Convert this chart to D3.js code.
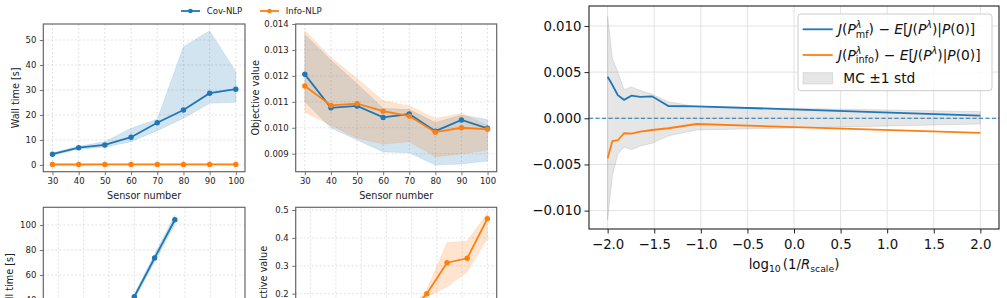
<!DOCTYPE html>
<html><head><meta charset="utf-8">
<script src="https://cdn.jsdelivr.net/npm/d3@7"></script>
<style>body{margin:0;background:#fff} svg{display:block} text{font-family:"DejaVu Sans",sans-serif}</style>
</head><body><svg id="c" width="1007" height="298"></svg>
<script>
// ---------- data: top panels (sensor number) ----------
const sensors = [30, 40, 50, 60, 70, 80, 90, 100];
const covTime   = [4.3, 6.9, 8.0, 11.1, 16.9, 22.0, 28.7, 30.3];
const covTimeLo = [3.8, 6.4, 7.1, 9.3, 13.7, 18.7, 24.7, 25.1];
const covTimeHi = [4.9, 7.5, 9.3, 14.7, 18.3, 47.3, 53.7, 37.3];
const infoTime   = [0.18, 0.19, 0.2, 0.2, 0.21, 0.22, 0.22, 0.23];
const infoTimeLo = [0.15, 0.16, 0.17, 0.17, 0.18, 0.19, 0.19, 0.2];
const infoTimeHi = [0.21, 0.22, 0.23, 0.23, 0.24, 0.25, 0.25, 0.26];
const covObj   = [0.01206, 0.01077, 0.01084, 0.0104, 0.01053, 0.00987, 0.0103, 0.00998];
const covObjLo = [0.0110, 0.0100, 0.00953, 0.00907, 0.00904, 0.00856, 0.0086, 0.00872];
const covObjHi = [0.0136, 0.0126, 0.0117, 0.01075, 0.0107, 0.0102, 0.01049, 0.01032];
const infoObj   = [0.01161, 0.01086, 0.01093, 0.01064, 0.01045, 0.00983, 0.0100, 0.00994];
const infoObjLo = [0.0106, 0.0101, 0.0096, 0.00937, 0.00946, 0.00888, 0.00899, 0.00914];
const infoObjHi = [0.01375, 0.0127, 0.0119, 0.01104, 0.01084, 0.01036, 0.01055, 0.0101];
// ---------- data: bottom panels (only their upper part is in view) ----------
const sensorsB = [30, 70, 110, 150, 190, 230];
const covTimeB   = [2.5, 8.5, 20.5, 42.6, 73.6, 104.2];
const covTimeBLo = [2.2, 7.8, 19.0, 40.5, 70.5, 100.5];
const covTimeBHi = [2.8, 9.2, 22.0, 44.7, 76.7, 108.0];
const sensorsB2 = [30, 70, 110, 150, 190, 230, 270, 310, 350];
const infoObjB   = [0.01, 0.02, 0.04, 0.07, 0.12, 0.2, 0.311, 0.327, 0.469];
const infoObjBLo = [0.008, 0.016, 0.033, 0.06, 0.105, 0.188, 0.225, 0.279, 0.398];
const infoObjBHi = [0.012, 0.024, 0.047, 0.08, 0.135, 0.213, 0.383, 0.389, 0.488];
const bottomXTicks = [0, 50, 100, 150, 200, 250, 300, 350];
const bottomLeftYTicks = [40, 60, 80, 100];
const bottomMidYTicks = [0.2, 0.3, 0.4, 0.5];
// ---------- data: right panel ----------
const logInvR = [-2.0, -1.949, -1.891, -1.824, -1.745, -1.648, -1.523, -1.347, -1.046, 2.0];
const mfDiff   = [0.0045, 0.0036, 0.0025, 0.0020, 0.00245, 0.00232, 0.00238, 0.00133, 0.0013, 0.00028];
const infoDiff = [-0.00433, -0.00246, -0.00238, -0.00162, -0.00167, -0.00145, -0.00127, -0.00108, -0.00062, -0.00159];
const mcUpper = [0.011, 0.0065, 0.0050, 0.0031, 0.0034, 0.0030, 0.0026, 0.0018, 0.00126, 0.00072];
const mcLower = [-0.011, -0.0062, -0.0039, -0.0031, -0.0034, -0.0030, -0.0027, -0.0019, -0.00127, -0.00062];
const rightXTicks = [-2.0, -1.5, -1.0, -0.5, 0.0, 0.5, 1.0, 1.5, 2.0];
const rightYTicks = [-0.010, -0.005, 0.0, 0.005, 0.010];

const C0 = "#1f77b4", C1 = "#ff7f0e";
const svg = d3.select("#c");

function leftPanel(cfg) {
  const g = svg.append("g");
  const x = d3.scaleLinear().domain(cfg.xd).range([cfg.L, cfg.R]);
  const y = d3.scaleLinear().domain(cfg.yd).range([cfg.B, cfg.T]);
  const clipId = "clip" + Math.round(cfg.L) + "_" + Math.round(cfg.T);
  svg.append("clipPath").attr("id", clipId).append("rect")
    .attr("x", cfg.L).attr("y", cfg.T).attr("width", cfg.R - cfg.L).attr("height", cfg.B - cfg.T);
  const grid = g.append("g").attr("stroke", "#d6d6d6").attr("stroke-width", 0.7).attr("stroke-dasharray", "2,2");
  cfg.xt.forEach(t => grid.append("line").attr("x1", x(t)).attr("x2", x(t)).attr("y1", cfg.T).attr("y2", cfg.B));
  cfg.yt.forEach(t => grid.append("line").attr("y1", y(t)).attr("y2", y(t)).attr("x1", cfg.L).attr("x2", cfg.R));
  const plot = g.append("g").attr("clip-path", `url(#${clipId})`);
  cfg.series.forEach(s => {
    const pts = s.xs.map((v, i) => ({x: v, y: s.ys[i], lo: s.lo[i], hi: s.hi[i]}));
    plot.append("path").datum(pts)
      .attr("d", d3.area().x(d => x(d.x)).y0(d => y(d.lo)).y1(d => y(d.hi)))
      .attr("fill", s.c).attr("fill-opacity", 0.2).attr("stroke", s.c).attr("stroke-opacity", 0.15).attr("stroke-width", 0.8);
  });
  cfg.series.forEach(s => {
    const pts = s.xs.map((v, i) => ({x: v, y: s.ys[i]}));
    plot.append("path").datum(pts).attr("d", d3.line().x(d => x(d.x)).y(d => y(d.y)))
      .attr("fill", "none").attr("stroke", s.c).attr("stroke-width", 1.8);
    plot.selectAll(null).data(pts).enter().append("circle")
      .attr("cx", d => x(d.x)).attr("cy", d => y(d.y)).attr("r", 2.7).attr("fill", s.c);
  });
  g.append("rect").attr("x", cfg.L).attr("y", cfg.T).attr("width", cfg.R - cfg.L).attr("height", cfg.B - cfg.T)
    .attr("fill", "none").attr("stroke", "#666").attr("stroke-width", 1.2);
  const axes = [];
  if (cfg.xLabel) {
    axes.push(g.append("g").attr("transform", `translate(0,${cfg.B})`)
      .call(d3.axisBottom(x).tickValues(cfg.xt).tickSize(3.5).tickPadding(3.2).tickFormat(d3.format("d"))));
  }
  axes.push(g.append("g").attr("transform", `translate(${cfg.L},0)`)
    .call(d3.axisLeft(y).tickValues(cfg.yt).tickSize(3.5).tickPadding(3.5).tickFormat(cfg.yf)));
  axes.forEach(a => {
    a.select(".domain").remove();
    a.selectAll("line").attr("stroke", "#666").attr("stroke-width", 0.9);
    a.selectAll("text").attr("font-size", 8.5).attr("fill", "#222").attr("font-family", "DejaVu Sans");
  });
  if (cfg.xLabel) g.append("text").attr("x", (cfg.L + cfg.R) / 2).attr("y", cfg.B + 26.8)
    .attr("text-anchor", "middle").attr("font-size", 9.7).attr("fill", "#222").text(cfg.xLabel);
  g.append("text").attr("transform", `translate(${cfg.ylx},${(cfg.T + cfg.B) / 2}) rotate(-90)`)
    .attr("text-anchor", "middle").attr("font-size", 9.7).attr("fill", "#222").text(cfg.yLabel);
}

// top-left
leftPanel({L: 43.3, R: 245, T: 24, B: 171.7, xd: [26.5, 103.5], yd: [-2.7, 56.4],
  xt: sensors, yt: [0, 10, 20, 30, 40, 50], yf: d3.format("d"),
  xLabel: "Sensor number", yLabel: "Wall time [s]", ylx: 18.7,
  series: [
    {xs: sensors, ys: covTime, lo: covTimeLo, hi: covTimeHi, c: C0},
    {xs: sensors, ys: infoTime, lo: infoTimeLo, hi: infoTimeHi, c: C1}]});
// top-middle
leftPanel({L: 295.7, R: 496.7, T: 24, B: 171.7, xd: [26.5, 103.5], yd: [0.008306, 0.014],
  xt: sensors, yt: [0.009, 0.010, 0.011, 0.012, 0.013, 0.014], yf: d3.format(".3f"),
  xLabel: "Sensor number", yLabel: "Objective value", ylx: 258.5,
  series: [
    {xs: sensors, ys: covObj, lo: covObjLo, hi: covObjHi, c: C0},
    {xs: sensors, ys: infoObj, lo: infoObjLo, hi: infoObjHi, c: C1}]});
// bottom-left (cut by the window edge)
leftPanel({L: 43.3, R: 245, T: 207.3, B: 360, xd: [-29.6, 368.4], yd: [-8, 114.2],
  xt: bottomXTicks, yt: bottomLeftYTicks, yf: d3.format("d"),
  yLabel: "Wall time [s]", ylx: 12.7,
  series: [{xs: sensorsB, ys: covTimeB, lo: covTimeBLo, hi: covTimeBHi, c: C0}]});
// bottom-middle (cut by the window edge)
leftPanel({L: 295.7, R: 496.7, T: 207.3, B: 360, xd: [-29.6, 368.4], yd: [-0.0376, 0.5097],
  xt: bottomXTicks, yt: bottomMidYTicks, yf: d3.format(".1f"),
  yLabel: "Objective value", ylx: 267,
  series: [{xs: sensorsB2, ys: infoObjB, lo: infoObjBLo, hi: infoObjBHi, c: C1}]});

// shared legend (top)
const lg = svg.append("g");
[[181, C0, "Cov-NLP"], [260, C1, "Info-NLP"]].forEach(([x0, c, t]) => {
  lg.append("line").attr("x1", x0).attr("x2", x0 + 19).attr("y1", 11).attr("y2", 11).attr("stroke", c).attr("stroke-width", 1.8);
  lg.append("circle").attr("cx", x0 + 9.5).attr("cy", 11).attr("r", 2.3).attr("fill", c);
  lg.append("text").attr("x", x0 + 25.7).attr("y", 14).attr("font-size", 8.6).attr("fill", "#222").text(t);
});

// ---------- right panel ----------
function mathText(sel, runs, fs) {
  let cur = 0, prev = null;
  runs.forEach(r => {
    const shift = r.sup ? -0.4 * fs : r.sub ? 0.26 * fs : 0;
    const ts = sel.append("tspan").text(r.t);
    if (shift - cur !== 0) ts.attr("dy", shift - cur);
    cur = shift;
    if (r.sup || r.sub) ts.attr("font-size", fs * 0.7);
    if (r.it) ts.attr("font-style", "italic");
    let dx = r.dx || 0;
    if (r.back && prev) dx -= prev.node().getComputedTextLength();
    if (dx) ts.attr("dx", dx);
    prev = ts;
  });
}
(function rightPanel() {
  const L = 589, R = 999, T = 6, B = 229;
  const g = svg.append("g");
  const x = d3.scaleLinear().domain([-2.2, 2.2]).range([L, R]);
  const y = d3.scaleLinear().domain([-0.01199, 0.01216]).range([B, T]);
  const grid = g.append("g").attr("stroke", "#e3e3e3").attr("stroke-width", 1);
  rightXTicks.forEach(t => grid.append("line").attr("x1", x(t)).attr("x2", x(t)).attr("y1", T).attr("y2", B));
  rightYTicks.forEach(t => grid.append("line").attr("y1", y(t)).attr("y2", y(t)).attr("x1", L).attr("x2", R));
  const pts = logInvR.map((v, i) => ({x: v, mf: mfDiff[i], info: infoDiff[i], lo: mcLower[i], hi: mcUpper[i]}));
  g.append("path").datum(pts).attr("d", d3.area().x(d => x(d.x)).y0(d => y(d.lo)).y1(d => y(d.hi)))
    .attr("fill", "#808080").attr("fill-opacity", 0.2).attr("stroke", "#808080").attr("stroke-opacity", 0.2).attr("stroke-width", 1);
  g.append("line").attr("x1", L).attr("x2", R).attr("y1", y(0)).attr("y2", y(0))
    .attr("stroke", C0).attr("stroke-width", 1.1).attr("stroke-dasharray", "4,2.5");
  g.append("path").datum(pts).attr("d", d3.line().x(d => x(d.x)).y(d => y(d.mf)))
    .attr("fill", "none").attr("stroke", C0).attr("stroke-width", 1.8);
  g.append("path").datum(pts).attr("d", d3.line().x(d => x(d.x)).y(d => y(d.info)))
    .attr("fill", "none").attr("stroke", C1).attr("stroke-width", 1.8);
  g.append("rect").attr("x", L).attr("y", T).attr("width", R - L).attr("height", B - T)
    .attr("fill", "none").attr("stroke", "#222").attr("stroke-width", 1.1);
  const ax = g.append("g").attr("transform", `translate(0,${B})`)
    .call(d3.axisBottom(x).tickValues(rightXTicks).tickSize(4.5).tickPadding(6.5).tickFormat(d3.format(".1f")));
  const ay = g.append("g").attr("transform", `translate(${L},0)`)
    .call(d3.axisLeft(y).tickValues(rightYTicks).tickSize(4.5).tickPadding(3).tickFormat(d3.format(".3f")));
  [ax, ay].forEach(a => {
    a.select(".domain").remove();
    a.selectAll("line").attr("stroke", "#222").attr("stroke-width", 1);
    a.selectAll("text").attr("font-size", 13.3).attr("fill", "#111").attr("font-family", "DejaVu Sans")
      .text(function () { return this.textContent.replace("-", "\u2212"); });
  });
  const xl = g.append("text").attr("x", (L + R) / 2).attr("y", 268.5).attr("text-anchor", "middle")
    .attr("font-size", 13.3).attr("fill", "#111");
  mathText(xl, [{t: "log"}, {t: "10", sub: true}, {t: "(1/", dx: 2}, {t: "R", it: true}, {t: "scale", sub: true}, {t: ")"}], 13.3);
  const lg = g.append("g");
  lg.append("rect").attr("x", 798).attr("y", 14).attr("width", 194).attr("height", 76.7).attr("rx", 3)
    .attr("fill", "#fff").attr("fill-opacity", 0.85).attr("stroke", "#cccccc").attr("stroke-width", 1);
  lg.append("line").attr("x1", 802.7).attr("x2", 832.7).attr("y1", 29.3).attr("y2", 29.3).attr("stroke", C0).attr("stroke-width", 1.8);
  lg.append("line").attr("x1", 802.7).attr("x2", 832.7).attr("y1", 55).attr("y2", 55).attr("stroke", C1).attr("stroke-width", 1.8);
  lg.append("rect").attr("x", 803).attr("y", 72.7).attr("width", 29.7).attr("height", 11.3)
    .attr("fill", "#808080").attr("fill-opacity", 0.2).attr("stroke", "#808080").attr("stroke-opacity", 0.2);
  const fs = 13.8;
  const t1 = lg.append("text").attr("x", 838).attr("y", 34).attr("font-size", fs).attr("fill", "#111");
  mathText(t1, [{t: "J", it: true}, {t: "("}, {t: "P", it: true}, {t: "\u03bb", it: true, sup: true},
    {t: "mf", sub: true, back: true}, {t: ")"}, {t: " \u2212 "}, {t: "E", it: true}, {t: "["}, {t: "J", it: true},
    {t: "("}, {t: "P", it: true}, {t: "\u03bb", it: true, sup: true}, {t: ")|"}, {t: "P", it: true}, {t: "(0)]"}], fs);
  const t2 = lg.append("text").attr("x", 838).attr("y", 59.7).attr("font-size", fs).attr("fill", "#111");
  mathText(t2, [{t: "J", it: true}, {t: "("}, {t: "P", it: true}, {t: "\u03bb", it: true, sup: true},
    {t: "info", sub: true, back: true}, {t: ")"}, {t: " \u2212 "}, {t: "E", it: true}, {t: "["}, {t: "J", it: true},
    {t: "("}, {t: "P", it: true}, {t: "\u03bb", it: true, sup: true}, {t: ")|"}, {t: "P", it: true}, {t: "(0)]"}], fs);
  lg.append("text").attr("x", 843.3).attr("y", 83.3).attr("font-size", fs).attr("fill", "#111").text("MC \u00b11 std");
})();
</script></body></html>
